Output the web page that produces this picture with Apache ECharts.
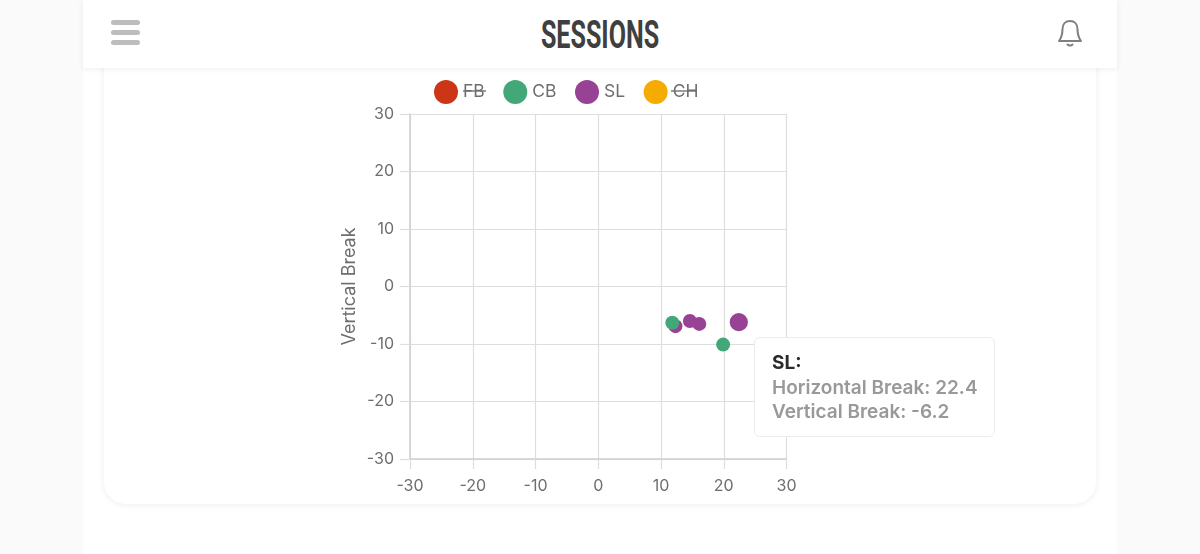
<!DOCTYPE html>
<html lang="en">
<head>
    <meta charset="UTF-8">
    <title>Sessions</title>
    <style>
        * {
            margin: 0;
            padding: 0;
            box-sizing: border-box;
        }

        body {
            width: 1200px;
            height: 554px;
            overflow: hidden;
            position: relative;
            background-color: #fafafa;
            font-family: Inter, Arial, sans-serif;
        }

        .page {
            position: absolute;
            left: 83px;
            top: 0;
            width: 1034px;
            height: 554px;
            background-color: #fff;
        }

        .card {
            position: absolute;
            left: 104px;
            top: 40px;
            width: 992px;
            height: 464px;
            background-color: #fff;
            border-radius: 22px;
            box-shadow: 0 1px 7px rgba(0,0,0,0.07);
        }

        .header {
            position: absolute;
            left: 83px;
            top: 0;
            width: 1034px;
            height: 68px;
            background-color: #fff;
            box-shadow: 0 1px 6px rgba(0,0,0,0.07);
        }

        .title {
            position: absolute;
            left: 0;
            top: 13px;
            width: 1034px;
            text-align: center;
            font-family: Roboto, "Liberation Sans", sans-serif;
            font-weight: bold;
            font-size: 38px;
            line-height: 44px;
            color: #3f3f3f;
            transform: scaleX(0.66);
        }

        .burger {
            position: absolute;
            width: 29px;
            height: 5px;
            left: 28px;
            background-color: #bdbdbd;
            border-radius: 3px;
        }

        .bell {
            position: absolute;
            left: 974px;
            top: 19px;
        }

        #chart {
            position: absolute;
            left: 0;
            top: 0;
            width: 1200px;
            height: 554px;
        }
    </style>
    <script src="https://cdn.jsdelivr.net/npm/echarts@6.0.0/dist/echarts.min.js"></script>
</head>
<body>
    <div class="page"></div>
    <div class="card"></div>
    <div class="header">
        <div class="burger" style="top: 20px;"></div>
        <div class="burger" style="top: 30px;"></div>
        <div class="burger" style="top: 40px;"></div>
        <div class="title">SESSIONS</div>
        <svg class="bell" width="26" height="28" viewBox="0 0 26 28" fill="none" stroke="#808080" stroke-width="2" stroke-linecap="round" stroke-linejoin="round">
            <path d="M2 22 C5 18 5.5 15 5.5 10 C5.5 5 8.5 2 13 2 C17.5 2 20.5 5 20.5 10 C20.5 15 21 18 24 22 Z"/>
            <path d="M10.5 25.5 C11.5 26.7 14.5 26.7 15.5 25.5"/>
        </svg>
    </div>
    <div id="chart"></div>

    <script>
        const pitchTypes = ['FB', 'CB', 'SL', 'CH'];
        const pitchColors = ['#cc3516', '#43a878', '#984296', '#f5ab00'];
        const axisTicks = [-30, 30, 10];

        // FB and CH are switched off in the picture
        const fbPoints = [];
        const cbPoints = [[11.8, -6.3], [19.9, -10.1]];
        const slPoints = [[12.3, -6.9], [14.6, -6.0], [16.1, -6.5], [22.4, -6.2]];
        const chPoints = [];
        const seriesPoints = [fbPoints, cbPoints, slPoints, chPoints];

        const hoveredSeries = 2;
        const hoveredPoint = 3;

        const labelFont = 'Inter, Arial, sans-serif';
        const lineColor = '#dedede';

        const myChart = echarts.init(document.getElementById('chart'), null, { renderer: 'canvas' });

        function valueAxis(labelMargin) {
            return {
                type: 'value',
                min: axisTicks[0],
                max: axisTicks[1],
                interval: axisTicks[2],
                axisLine: { show: true, onZero: false, lineStyle: { color: '#cfcfcf', width: 1.5 } },
                axisTick: { show: true, length: 10, lineStyle: { color: lineColor, width: 1.2 } },
                axisLabel: { color: '#6e6e6e', fontSize: 16, fontFamily: labelFont, margin: labelMargin },
                splitLine: { show: true, lineStyle: { color: lineColor, width: 1.2 } }
            };
        }

        // strike through the legend text of the switched off types
        function strike(x1, x2) {
            return {
                type: 'line',
                shape: { x1: x1, y1: 91, x2: x2, y2: 91 },
                style: { stroke: '#666', lineWidth: 1.3 },
                silent: true
            };
        }

        const option = {
            animation: false,
            grid: { left: 410, right: 413.5, top: 114, bottom: 95 },
            legend: {
                data: pitchTypes,
                left: 429,
                top: 75,
                icon: 'circle',
                itemWidth: 24,
                itemHeight: 24,
                itemGap: 18.5,
                selectedMode: false,
                textStyle: { color: '#6e6e6e', fontSize: 17.5, fontFamily: labelFont }
            },
            tooltip: {
                trigger: 'item',
                alwaysShowContent: true,
                transitionDuration: 0,
                position: [754, 337],
                padding: 0,
                borderWidth: 0,
                backgroundColor: 'transparent',
                extraCssText: 'box-shadow:none;',
                formatter: function (params) {
                    return '<div style="width:241px;height:100px;padding:13px 0 0 17px;background:#fff;'
                        + 'border:1px solid #ececec;border-radius:6px;font-family:' + labelFont + ';font-size:19px;line-height:24.5px;">'
                        + '<div style="font-weight:700;color:#2b2b2b;">' + params.seriesName + ':</div>'
                        + '<div style="font-weight:600;color:#999;">Horizontal Break: ' + params.value[0] + '</div>'
                        + '<div style="font-weight:600;color:#999;">Vertical Break: ' + params.value[1] + '</div>'
                        + '</div>';
                }
            },
            xAxis: valueAxis(19),
            yAxis: Object.assign(valueAxis(16), {
                name: 'Vertical Break',
                nameLocation: 'middle',
                nameGap: 51,
                nameTextStyle: { color: '#6e6e6e', fontSize: 18, fontFamily: labelFont }
            }),
            series: pitchTypes.map(function (name, i) {
                return {
                    name: name,
                    type: 'scatter',
                    data: seriesPoints[i],
                    symbolSize: 14,
                    itemStyle: { color: pitchColors[i], opacity: 1 },
                    emphasis: { scale: 1.3, itemStyle: { color: pitchColors[i] } },
                    z: name === 'CB' ? 3 : 2
                };
            }),
            graphic: [strike(463, 486), strike(671, 696)]
        };

        myChart.setOption(option);

        myChart.dispatchAction({ type: 'highlight', seriesIndex: hoveredSeries, dataIndex: hoveredPoint });
        myChart.dispatchAction({ type: 'showTip', seriesIndex: hoveredSeries, dataIndex: hoveredPoint });
    </script>
</body>
</html>
